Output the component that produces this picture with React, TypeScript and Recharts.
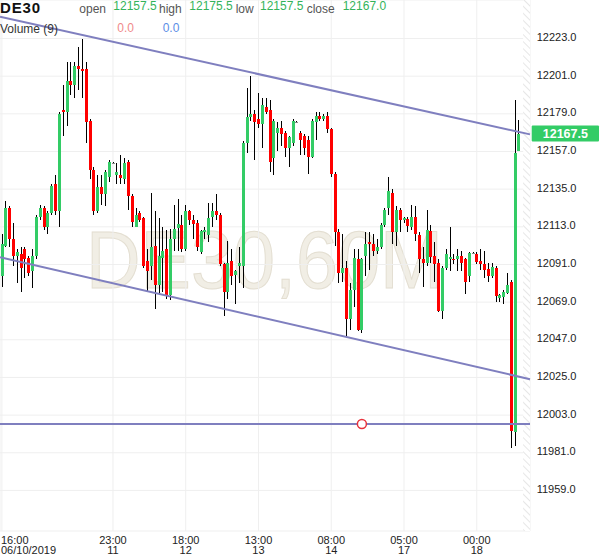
import React from "react";
import {
  ComposedChart,
  Bar,
  XAxis,
  YAxis,
  CartesianGrid,
  ReferenceLine,
  ReferenceDot,
  ReferenceArea,
} from "recharts";

// hourly DE30 candles, oldest first
const opens = [
  12084, 12102, 12124, 12106, 12096, 12097, 12100, 12095, 12087, 12096, 12119, 12124, 12113, 12121, 12138, 12122,
  12181, 12180, 12198, 12196, 12207, 12205, 12205, 12175, 12146, 12122, 12136, 12132, 12142, 12150.5, 12143, 12143,
  12141, 12151, 12131, 12113, 12121, 12118, 12093, 12090, 12102, 12079, 12095, 12100, 12073, 12106, 12112.5, 12114,
  12100, 12122, 12117, 12115, 12098, 12110, 12108, 12119, 12122, 12120, 12091, 12075, 12093, 12085, 12090, 12090,
  12162, 12177, 12179, 12176, 12173, 12183, 12181, 12153, 12168, 12171, 12168, 12159, 12162, 12174.5, 12168, 12166,
  12164, 12154, 12174.5, 12178, 12176, 12178, 12170, 12144, 12110, 12086, 12089, 12059, 12076, 12094, 12053, 12096,
  12104, 12103, 12099, 12101, 12114, 12124, 12133, 12110, 12123, 12117, 12117.5, 12113, 12119, 12108, 12094, 12092,
  12110.5, 12096, 12092, 12064, 12089, 12094, 12094, 12094, 12096, 12094, 12084, 12097.5, 12097, 12093, 12091.5, 12088.5,
  12084, 12089, 12071.5, 12072, 12074.5, 12081, 11993, 12157.5,
];
const highs = [
  12109, 12128, 12125, 12115, 12100, 12101, 12101, 12096, 12100, 12120, 12126, 12125, 12122, 12138, 12143, 12180,
  12196, 12209, 12209, 12209, 12218, 12223, 12209, 12176, 12148, 12143, 12143, 12146, 12152, 12151, 12150, 12155,
  12153, 12152, 12132, 12124, 12122, 12119, 12100, 12133, 12122, 12118, 12113, 12111, 12112, 12126, 12129, 12120,
  12126, 12123, 12120, 12117, 12111, 12113, 12127, 12127, 12132, 12121, 12092, 12105, 12100, 12088, 12101, 12163,
  12194, 12201, 12181, 12191, 12188, 12188, 12187, 12176, 12174, 12175, 12169, 12166, 12176, 12175, 12169, 12167,
  12166, 12176, 12180, 12180, 12179, 12180, 12171, 12145, 12112, 12109, 12093, 12080, 12100, 12100, 12095, 12110,
  12110, 12109, 12106, 12115, 12124, 12142, 12135, 12125, 12124, 12119, 12119, 12126, 12125, 12110, 12101, 12123,
  12114, 12104, 12094, 12090, 12100, 12113, 12097, 12100, 12099, 12095, 12098, 12098, 12098, 12100, 12099, 12092,
  12092, 12090, 12074, 12076, 12086, 12082, 12187, 12175.5,
];
const lows = [
  12078, 12101, 12101, 12090, 12080, 12075, 12083, 12084, 12077, 12094, 12117, 12111, 12109, 12120, 12120, 12113,
  12166, 12172, 12190, 12188, 12193, 12188, 12162, 12141, 12120, 12121, 12126, 12125, 12139, 12150, 12138, 12138,
  12138, 12123, 12113, 12113, 12116, 12089, 12075, 12082, 12065, 12073, 12075, 12071, 12070, 12099, 12099, 12098,
  12099, 12114, 12106, 12099, 12097, 12106, 12104, 12113, 12117, 12090, 12061, 12071, 12079, 12068, 12080, 12077,
  12156, 12175, 12152, 12171, 12159, 12179, 12145, 12143, 12157, 12160, 12154, 12148, 12160, 12174, 12155, 12155,
  12144, 12153, 12164, 12175, 12175, 12168, 12142, 12102, 12080, 12081, 12049, 12053, 12066, 12052, 12051, 12084,
  12088, 12096, 12097, 12100, 12113, 12120, 12103, 12102, 12110, 12115, 12110, 12111, 12105, 12086, 12078, 12090,
  12092, 12081, 12063, 12059, 12088, 12087, 12091, 12087, 12087, 12074, 12081, 12097, 12091, 12088, 12083, 12081,
  12083, 12069, 12069, 12068, 12074, 11984, 11985, 12157.5,
];
const closes = [
  12103, 12124, 12106, 12096, 12098, 12089, 12094, 12086, 12096, 12119, 12124, 12113, 12121, 12137, 12122, 12179,
  12180, 12198, 12196, 12207, 12205, 12204, 12174, 12146, 12122, 12136, 12132, 12145, 12151, 12150.5, 12145, 12141.5,
  12150, 12131, 12116, 12120, 12117, 12090, 12087, 12101, 12079, 12096, 12099, 12073, 12106, 12112, 12114.5, 12100,
  12122, 12117, 12114.5, 12101, 12110.5, 12111, 12118, 12122, 12120, 12091, 12075, 12092, 12084, 12087, 12092, 12162,
  12177, 12179, 12174, 12173, 12184, 12180, 12151, 12175, 12171, 12167, 12159, 12165.5, 12175, 12174.5, 12164, 12159,
  12154, 12175, 12178, 12176, 12178, 12170, 12144, 12110, 12086, 12089, 12059, 12076, 12095, 12053, 12094, 12103,
  12103, 12099, 12101, 12114, 12123, 12134, 12110, 12123, 12117, 12118, 12113.5, 12119, 12109, 12094, 12092, 12111,
  12095.5, 12091, 12064, 12089, 12097, 12095.5, 12093.5, 12096, 12092, 12081, 12097.5, 12097.5, 12092.5, 12091.5, 12088, 12084,
  12089.5, 12072.5, 12073, 12075, 12079, 11993.5, 12156, 12167,
];

const timeTicks = [0, 29, 48, 67, 86, 105, 124];
const timeLabels = ["16:00", "23:00", "18:00", "13:00", "08:00", "05:00", "00:00"];
const dayLabels = ["06/10/2019", "11", "12", "13", "14", "17", "18"];
const priceTicks = [11959, 11981, 12003, 12025, 12047, 12069, 12091, 12113, 12135, 12157, 12179, 12201, 12223];

// drawn trend lines (start / end price across the visible window)
const upperChannel = [12235.7, 12167.0];
const lowerChannel = [12095.2, 12024.0];
const supportLevel = 11997.8;
const alertIndex = 94;
const lastPrice = 12167.5;
const volumes = [0.0, 0.0];

const GREEN = "#33cc66";
const RED = "#ff0000";
const LINE = "#7f7fbf";
const FONT = "'Liberation Sans', Arial, sans-serif";

const X_DOMAIN: [number, number] = [-0.5, 137.9];

const data = opens.map((o, i) => ({ i, o, h: highs[i], l: lows[i], c: closes[i] }));
const last = data[data.length - 1];

function Candle(props: any) {
  const { x, y, width, height, payload } = props;
  if (!payload || x == null || y == null) return null;
  const { o, h, l, c } = payload;
  const top = Math.min(y, y + height);
  const bot = Math.max(y, y + height);
  const span = h - l || 1;
  const py = (v: number) => top + ((h - v) / span) * (bot - top);
  const cx = Math.round(x + width / 2);
  const bTop = py(Math.max(o, c));
  const bBot = py(Math.min(o, c));
  const doji = o === c;
  const fill = doji ? "#8a8a8a" : c > o ? GREEN : RED;
  return (
    <g shapeRendering="crispEdges">
      <line x1={cx + 0.5} x2={cx + 0.5} y1={top} y2={bot} stroke="#000" strokeWidth={1} />
      <rect x={cx - 1} y={bTop} width={3} height={Math.max(bBot - bTop, 1)} fill={fill} />
    </g>
  );
}

function TimeTick(props: any) {
  const { x, y, payload } = props;
  const k = timeTicks.indexOf(payload.value);
  if (k < 0) return null;
  const first = k === 0;
  return (
    <text
      x={first ? 1 : x}
      y={y}
      textAnchor={first ? "start" : "middle"}
      fontSize={11}
      fontFamily={FONT}
      fill="#222"
    >
      <tspan x={first ? 1 : x} dy={12.5}>
        {timeLabels[k]}
      </tspan>
      <tspan x={first ? 1 : x} dy={10.5}>
        {dayLabels[k]}
      </tspan>
    </text>
  );
}

function PriceTick(props: any) {
  const { x, y, payload } = props;
  return (
    <text x={x} y={y} dy={2.5} textAnchor="start" fontSize={11} fontFamily={FONT} fill="#222">
      {Number(payload.value).toFixed(1)}
    </text>
  );
}

function PriceTag(props: any) {
  const vb = props.viewBox || {};
  const left = vb.x + vb.width + 1.7;
  const w = 600 - left - 1;
  return (
    <g>
      <rect x={left} y={vb.y - 8} width={w} height={16} fill={GREEN} rx={1} />
      <text
        x={left + w / 2}
        y={vb.y + 4.5}
        textAnchor="middle"
        fontSize={12.5}
        fontWeight="bold"
        fontFamily={FONT}
        fill="#fff"
      >
        {lastPrice.toFixed(1)}
      </text>
    </g>
  );
}

function Header() {
  const lab = { fontSize: 12, fontFamily: FONT, fill: "#555" };
  const num = { fontSize: 12, fontFamily: FONT, fill: "#34b35a" };
  return (
    <svg width={600} height={558} style={{ position: "absolute", left: 0, top: 0, pointerEvents: "none" }}>
      <text x={0} y={12.5} fontSize={15} fontWeight="bold" fontFamily={FONT} fill="#111" textLength={40}>
        DE30
      </text>
      <text x={79.3} y={12.7} {...lab}>open</text>
      <text x={113.3} y={9.5} {...num}>{last.o.toFixed(1)}</text>
      <text x={159} y={12.7} {...lab}>high</text>
      <text x={189.3} y={9.5} {...num}>{last.h.toFixed(1)}</text>
      <text x={235.7} y={12.7} {...lab}>low</text>
      <text x={260} y={9.5} {...num}>{last.l.toFixed(1)}</text>
      <text x={306.7} y={12.7} {...lab}>close</text>
      <text x={342.7} y={9.5} {...num}>{last.c.toFixed(1)}</text>
      <text x={0} y={33} fontSize={12} fontFamily={FONT} fill="#333">Volume (9)</text>
      <text x={117.3} y={31.7} fontSize={12} fontFamily={FONT} fill="#f08a8a">{volumes[0].toFixed(1)}</text>
      <text x={162.7} y={31.7} fontSize={12} fontFamily={FONT} fill="#5b8ee6">{volumes[1].toFixed(1)}</text>
    </svg>
  );
}

function Watermark() {
  return (
    <svg width={600} height={558} style={{ position: "absolute", left: 0, top: 0 }}>
      <defs>
        <pattern id="hatch" width="5" height="5" patternUnits="userSpaceOnUse" patternTransform="rotate(-45)">
          <rect width="5" height="5" fill="#fff" />
          <line x1="0" y1="0" x2="0" y2="5" stroke="#e6e6e6" strokeWidth="2" />
        </pattern>
      </defs>
      <text
        x={86}
        y={288}
        fontSize={81}
        fontFamily={FONT}
        fill="#f1eee5"
        stroke="#e3ded1"
        strokeWidth={1}
        textLength={357}
        lengthAdjust="spacingAndGlyphs"
      >
        DE30,60M
      </text>
    </svg>
  );
}

export default function App() {
  return (
    <div style={{ position: "absolute", left: 0, top: 0, width: 600, height: 558, background: "#fff" }}>
      <Watermark />
      <div style={{ position: "absolute", left: 0, top: 0 }}>
        <ComposedChart width={600} height={558} data={data} margin={{ top: 0, right: 0, bottom: 0, left: 0 }}>
          <CartesianGrid stroke="#efefef" strokeWidth={1} />
          <XAxis
            dataKey="i"
            type="number"
            domain={X_DOMAIN}
            allowDataOverflow
            ticks={timeTicks}
            interval={0}
            height={27}
            axisLine={false}
            tickLine={false}
            tickSize={0}
            tickMargin={0}
            tick={<TimeTick />}
          />
          <YAxis
            orientation="right"
            type="number"
            domain={[11935.3, 12245.5]}
            allowDataOverflow
            ticks={priceTicks}
            interval={0}
            width={70}
            axisLine={false}
            tickLine={false}
            tickSize={0}
            tickMargin={6.7}
            tick={<PriceTick />}
          />
          <ReferenceArea x1={136.1} x2={137.9} fill="url(#hatch)" fillOpacity={1} ifOverflow="visible" />
          <Bar
            dataKey={(d: any) => [d.l, d.h]}
            barSize={3}
            shape={(p: any) => <Candle {...p} />}
            isAnimationActive={false}
          />
          <ReferenceLine
            segment={[{ x: X_DOMAIN[0], y: upperChannel[0] }, { x: X_DOMAIN[1], y: upperChannel[1] }]}
            stroke={LINE}
            strokeWidth={2}
            ifOverflow="visible"
          />
          <ReferenceLine
            segment={[{ x: X_DOMAIN[0], y: lowerChannel[0] }, { x: X_DOMAIN[1], y: lowerChannel[1] }]}
            stroke={LINE}
            strokeWidth={2}
            ifOverflow="visible"
          />
          <ReferenceLine y={supportLevel} stroke={LINE} strokeWidth={2} />
          <ReferenceDot
            x={alertIndex}
            y={supportLevel}
            r={4.5}
            fill="#fff"
            stroke="#e8323c"
            strokeWidth={1.5}
            ifOverflow="visible"
          />
          <ReferenceLine y={lastPrice} stroke="none" label={<PriceTag />} ifOverflow="visible" />
        </ComposedChart>
      </div>
      <Header />
    </div>
  );
}
